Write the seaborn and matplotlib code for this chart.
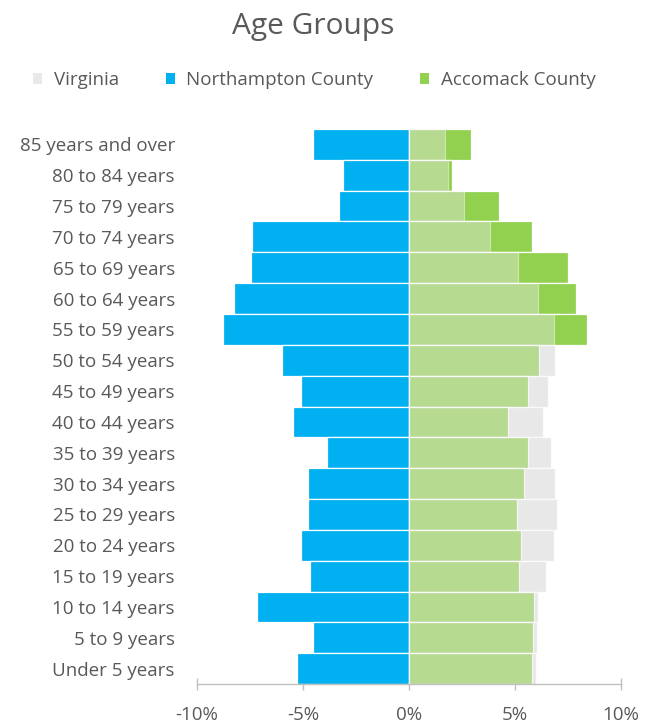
import matplotlib
matplotlib.use("Agg")
import matplotlib.pyplot as plt
from matplotlib.patches import Patch
import seaborn as sns
import pandas as pd

age_groups = [
    "85 years and over", "80 to 84 years", "75 to 79 years", "70 to 74 years",
    "65 to 69 years", "60 to 64 years", "55 to 59 years", "50 to 54 years",
    "45 to 49 years", "40 to 44 years", "35 to 39 years", "30 to 34 years",
    "25 to 29 years", "20 to 24 years", "15 to 19 years", "10 to 14 years",
    "5 to 9 years", "Under 5 years",
]
# Share of population (%) by age group; Northampton is plotted to the left
northampton = [-4.5, -3.1, -3.3, -7.4, -7.45, -8.25, -8.75, -6.0, -5.1,
               -5.45, -3.85, -4.75, -4.75, -5.1, -4.65, -7.15, -4.5, -5.3]
virginia = [1.7, 1.85, 2.6, 3.85, 5.15, 6.1, 6.85, 6.9, 6.55,
            6.35, 6.7, 6.9, 7.0, 6.85, 6.5, 6.1, 6.05, 6.0]
accomack = [2.95, 2.05, 4.25, 5.8, 7.5, 7.9, 8.4, 6.15, 5.65,
            4.7, 5.65, 5.45, 5.1, 5.3, 5.2, 5.9, 5.85, 5.8]
x_ticks = [-10, -5, 0, 5, 10]
x_tick_labels = ["-10%", "-5%", "0%", "5%", "10%"]

df = pd.DataFrame({"age": age_groups, "Northampton County": northampton,
                   "Virginia": virginia, "Accomack County": accomack})

BLUE = "#00b0f0"
GREEN = "#92d050"
GRAY = "#e8e8e8"
TEXT = "#595959"

sns.set_theme(style="white")
plt.rcParams["font.family"] = ["Open Sans", "DejaVu Sans"]

fig = plt.figure(figsize=(6.56, 7.23), dpi=100)
ax = fig.add_axes([0.3003, 0.0539, 0.6457, 0.7677])

common = dict(y="age", order=age_groups, width=1.0, edgecolor="white",
              linewidth=0.9, ax=ax, orient="h")
sns.barplot(data=df, x="Northampton County", color=BLUE, saturation=1, **common)
sns.barplot(data=df, x="Virginia", color=GRAY, saturation=1, **common)
sns.barplot(data=df, x="Accomack County", color=GREEN, saturation=1, **common)
# translucent Virginia layer on top tints the overlap with Accomack
sns.barplot(data=df, x="Virginia", color=GRAY, saturation=1, alpha=0.42, **common)

ax.set_xlim(-10, 10)
ax.set_ylim(len(age_groups) - 0.5, -0.5)
ax.set_xticks(x_ticks)
ax.set_xticklabels(x_tick_labels)
ax.set_xlabel("")
ax.set_ylabel("")
for side in ["top", "right", "left"]:
    ax.spines[side].set_visible(False)
ax.spines["bottom"].set_color("#bfbfbf")
ax.spines["bottom"].set_linewidth(1.0)
ax.tick_params(axis="x", direction="inout", length=9, width=1.0,
               color="#bfbfbf", labelsize=13.5, labelcolor=TEXT, pad=11,
               bottom=True)
ax.tick_params(axis="y", length=0, labelsize=13.5, labelcolor=TEXT, pad=16)

fig.text(0.477, 0.963, "Age Groups", ha="center", va="center",
         fontsize=21.5, color=TEXT)

handles = [Patch(facecolor=GRAY, edgecolor="none", label="Virginia"),
           Patch(facecolor=BLUE, edgecolor="none", label="Northampton County"),
           Patch(facecolor=GREEN, edgecolor="none", label="Accomack County")]
leg = fig.legend(handles=handles, loc="center", bbox_to_anchor=(0.479, 0.889),
                 ncol=3, frameon=False, handlelength=0.5, handleheight=0.5,
                 handletextpad=0.6, columnspacing=2.5, fontsize=13.5)
for t in leg.get_texts():
    t.set_color(TEXT)

fig.savefig("out.png", dpi=100, facecolor="white")
